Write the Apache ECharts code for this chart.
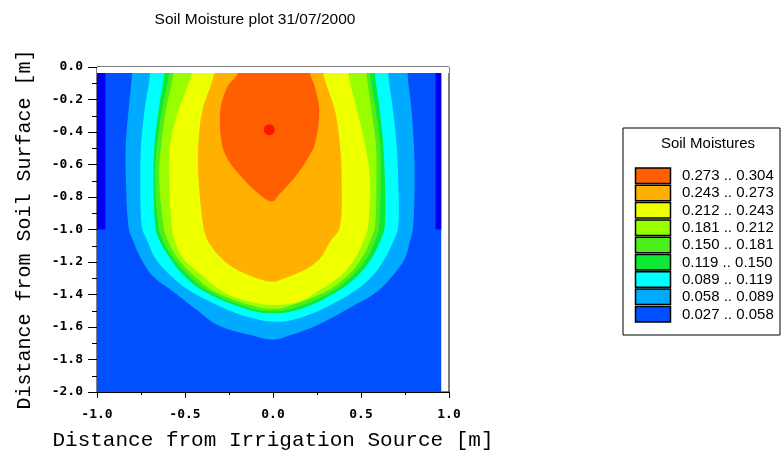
<!DOCTYPE html>
<html lang="en">
<head>
	<meta charset="UTF-8">
	<title>Soil Moisture plot</title>
	<script src="https://cdn.jsdelivr.net/npm/echarts/dist/echarts.min.js"></script>
	<style>
		html, body { margin: 0; padding: 0; background: #fff; }
		#main { width: 781px; height: 459px; }
	</style>
</head>
<body>
<div id="main"></div>
<script>
    // moisture classes (lower bound .. upper bound), listed from wet to dry like the legend
    var legendLabels = ['0.273 .. 0.304', '0.243 .. 0.273', '0.212 .. 0.243', '0.181 .. 0.212',
        '0.150 .. 0.181', '0.119 .. 0.150', '0.089 .. 0.119', '0.058 .. 0.089', '0.027 .. 0.058'];
    var bandColors = ['#FF5F00', '#FFB000', '#EEFF00', '#99FF00', '#4CEF1A', '#0FE835', '#00FFFF', '#00AAFF', '#0050FF'];
    var dryColor = '#0000F0';   // below 0.027
    var peakColor = '#FF0000';  // above 0.304

    // modelled domain [x, depth]
    var domain = [[-1.0, -0.037], [0.956, -0.037], [0.956, -2.0], [-1.0, -2.0]];
    // strip above the first node row (no data)
    var surfaceGap = [[-1.0, 0.0], [1.0, 0.0], [1.0, -0.037], [-1.0, -0.037]];
    // dry strips along the side walls
    var dryLeft = [[-1.0, -0.037], [-0.953, -0.037], [-0.953, -1.0], [-1.0, -1.0]];
    var dryRight = [[0.924, -0.037], [0.956, -0.037], [0.956, -1.0], [0.924, -1.0]];

    // contour lines, [x (m), depth (m)]
    var iso058 = [[-0.801, -0.037], [-0.821, -0.267], [-0.836, -0.472], [-0.836, -0.677], [-0.821, -0.985],
        [-0.792, -1.077], [-0.750, -1.179], [-0.688, -1.282], [-0.565, -1.385], [-0.442, -1.487],
        [-0.310, -1.590], [-0.121, -1.651], [0.0, -1.678], [0.096, -1.651], [0.248, -1.590],
        [0.427, -1.487], [0.588, -1.385], [0.682, -1.282], [0.749, -1.179], [0.777, -1.077],
        [0.796, -0.985], [0.805, -0.677], [0.800, -0.472], [0.787, -0.267], [0.764, -0.037]];
    var iso089 = [[-0.698, -0.037], [-0.730, -0.267], [-0.749, -0.472], [-0.754, -0.677], [-0.745, -0.985],
        [-0.711, -1.077], [-0.669, -1.179], [-0.584, -1.282], [-0.461, -1.385], [-0.272, -1.487],
        [-0.150, -1.535], [0.0, -1.568], [0.130, -1.550], [0.286, -1.487], [0.455, -1.385],
        [0.569, -1.282], [0.635, -1.179], [0.682, -1.077], [0.711, -0.985], [0.711, -0.677],
        [0.702, -0.472], [0.682, -0.267], [0.654, -0.037]];
    var iso119 = [[-0.617, -0.037], [-0.651, -0.267], [-0.673, -0.472], [-0.679, -0.677], [-0.669, -0.985],
        [-0.641, -1.077], [-0.584, -1.179], [-0.509, -1.282], [-0.386, -1.385], [-0.159, -1.487],
        [0.0, -1.516], [0.163, -1.487], [0.361, -1.385], [0.484, -1.282], [0.560, -1.179],
        [0.607, -1.077], [0.635, -0.985], [0.635, -0.677], [0.626, -0.472], [0.607, -0.267], [0.579, -0.037]];
    var iso150 = [[-0.590, -0.037], [-0.631, -0.267], [-0.658, -0.472], [-0.670, -0.677], [-0.650, -0.985],
        [-0.622, -1.077], [-0.565, -1.179], [-0.480, -1.282], [-0.357, -1.385], [-0.120, -1.487],
        [0.0, -1.503], [0.110, -1.487], [0.333, -1.385], [0.455, -1.282], [0.531, -1.179],
        [0.579, -1.077], [0.603, -0.985], [0.612, -0.677], [0.607, -0.472], [0.584, -0.267], [0.550, -0.037]];
    var iso181 = [[-0.565, -0.037], [-0.609, -0.267], [-0.635, -0.472], [-0.647, -0.677], [-0.622, -0.985],
        [-0.594, -1.077], [-0.541, -1.179], [-0.452, -1.282], [-0.329, -1.385], [-0.080, -1.480],
        [0.0, -1.488], [0.058, -1.482], [0.295, -1.385], [0.427, -1.282], [0.503, -1.179],
        [0.550, -1.077], [0.579, -0.985], [0.588, -0.677], [0.584, -0.472], [0.560, -0.267], [0.531, -0.037]];
    var iso212 = [[-0.461, -0.037], [-0.537, -0.267], [-0.584, -0.472], [-0.590, -0.677], [-0.575, -0.985],
        [-0.556, -1.077], [-0.509, -1.179], [-0.404, -1.282], [-0.282, -1.385], [-0.150, -1.440],
        [0.0, -1.465], [0.150, -1.445], [0.248, -1.385], [0.390, -1.282], [0.465, -1.179],
        [0.512, -1.077], [0.540, -0.985], [0.550, -0.677], [0.522, -0.472], [0.478, -0.267], [0.427, -0.037]];
    var iso243 = [[-0.333, -0.037], [-0.401, -0.267], [-0.424, -0.472], [-0.424, -0.677], [-0.395, -0.985],
        [-0.367, -1.077], [-0.291, -1.179], [-0.216, -1.241], [-0.083, -1.303], [0.0, -1.322],
        [0.058, -1.303], [0.191, -1.241], [0.267, -1.179], [0.323, -1.077], [0.380, -0.985],
        [0.390, -0.677], [0.380, -0.472], [0.352, -0.267], [0.285, -0.037]];
    var iso273 = [[-0.200, -0.037], [-0.260, -0.123], [-0.300, -0.267], [-0.291, -0.472], [-0.254, -0.574],
        [-0.178, -0.677], [-0.083, -0.779], [-0.007, -0.828], [0.040, -0.779], [0.125, -0.677],
        [0.191, -0.574], [0.238, -0.472], [0.263, -0.267], [0.238, -0.123], [0.210, -0.037]];
    var peakPoint = [-0.021, -0.386];

    var xTicks = { min: -1.0, max: 1.0, step: 0.5 };
    var yTicks = { min: -2.0, max: 0.0, step: 0.2 };

    // filled areas, painted from driest to wettest; contours are open at the surface
    var areas = [
        { pts: domain, color: bandColors[8] },
        { pts: dryLeft, color: dryColor },
        { pts: dryRight, color: dryColor },
        { pts: iso058, color: bandColors[7], contour: true },
        { pts: iso089, color: bandColors[6], contour: true },
        { pts: iso119, color: bandColors[5], contour: true },
        { pts: iso150, color: bandColors[4], contour: true },
        { pts: iso181, color: bandColors[3], contour: true },
        { pts: iso212, color: bandColors[2], contour: true },
        { pts: iso243, color: bandColors[1], contour: true },
        { pts: iso273, color: bandColors[0], contour: true },
        { pts: surfaceGap, color: '#fff' }
    ];

    var myChart = echarts.init(document.getElementById('main'));

    function fmt(v) { return v.toFixed(1); }

    // legend box on the right
    var legendFont = '15px "Liberation Sans", Arial, sans-serif';
    var legendItems = [
        { type: 'rect', shape: { x: 623, y: 128, width: 157, height: 207 },
          style: { fill: '#fff', stroke: '#000', lineWidth: 1 } },
        { type: 'text', x: 708, y: 144,
          style: { text: 'Soil Moistures', fill: '#000', font: legendFont,
                   textAlign: 'center', textVerticalAlign: 'middle' } }
    ];
    for (var i = 0; i < legendLabels.length; i++) {
        var rowY = 168 + i * 17.3;
        legendItems.push({ type: 'rect', shape: { x: 635.5, y: rowY, width: 35, height: 15.5 },
            style: { fill: bandColors[i], stroke: '#000', lineWidth: 1.5 } });
        legendItems.push({ type: 'text', x: 682, y: rowY + 8,
            style: { text: legendLabels[i], fill: '#000', font: legendFont,
                     textVerticalAlign: 'middle' } });
    }

    var option = {
        animation: false,
        title: {
            text: 'Soil Moisture plot 31/07/2000',
            left: 250, top: 7, textAlign: 'center',
            textStyle: { fontFamily: '"Liberation Sans", Arial, sans-serif', fontSize: 15.5, fontWeight: 'normal', color: '#000' }
        },
        grid: {
            left: 97, right: 332, top: 67, bottom: 67,
            show: true, borderColor: '#000', borderWidth: 1, backgroundColor: '#fff'
        },
        xAxis: {
            type: 'value',
            min: xTicks.min, max: xTicks.max, interval: xTicks.step,
            name: 'Distance from Irrigation Source [m]',
            nameLocation: 'middle', nameGap: 38,
            nameTextStyle: { fontFamily: '"Liberation Mono", monospace', fontSize: 21, color: '#000' },
            axisLine: { onZero: false, lineStyle: { color: '#000', width: 1 } },
            axisTick: { length: 6, lineStyle: { color: '#000' } },
            minorTick: { show: true, splitNumber: 2, length: 3, lineStyle: { color: '#000' } },
            splitLine: { show: false },
            axisLabel: { margin: 16, formatter: fmt, color: '#000',
                fontFamily: '"DejaVu Sans Mono", monospace', fontWeight: 'bold', fontSize: 13 }
        },
        yAxis: {
            type: 'value',
            min: yTicks.min, max: yTicks.max, interval: yTicks.step,
            name: 'Distance from Soil Surface [m]',
            nameLocation: 'middle', nameGap: 62, nameRotate: 90,
            nameTextStyle: { fontFamily: '"Liberation Mono", monospace', fontSize: 20, color: '#000' },
            axisLine: { onZero: false, lineStyle: { color: '#000', width: 1 } },
            axisTick: { length: 9, lineStyle: { color: '#000' } },
            minorTick: { show: true, splitNumber: 2, length: 5, lineStyle: { color: '#000' } },
            splitLine: { show: false },
            axisLabel: { margin: 14, formatter: fmt, color: '#000',
                fontFamily: '"DejaVu Sans Mono", monospace', fontWeight: 'bold', fontSize: 13 }
        },
        graphic: legendItems,
        series: [{
            type: 'custom',
            silent: true,
            clip: true,
            data: areas.map(function (a, idx) { return [idx]; }),
            renderItem: function (params, api) {
                var area = areas[params.dataIndex];
                var src = area.pts.slice();
                if (area.contour) {
                    // carry the open ends up past the surface; the no-data strip covers them
                    src.unshift([src[0][0], 0.1]);
                    src.push([src[src.length - 1][0], 0.1]);
                }
                var pts = src.map(function (p) { return api.coord(p); });
                return {
                    type: 'polygon',
                    shape: { points: pts, smooth: area.contour ? 0.35 : 0 },
                    style: { fill: area.color }
                };
            }
        }, {
            type: 'scatter',
            silent: true,
            symbol: 'circle',
            symbolSize: 11,
            itemStyle: { color: peakColor },
            data: [peakPoint]
        }]
    };
    myChart.setOption(option);
</script>
</body>
</html>
